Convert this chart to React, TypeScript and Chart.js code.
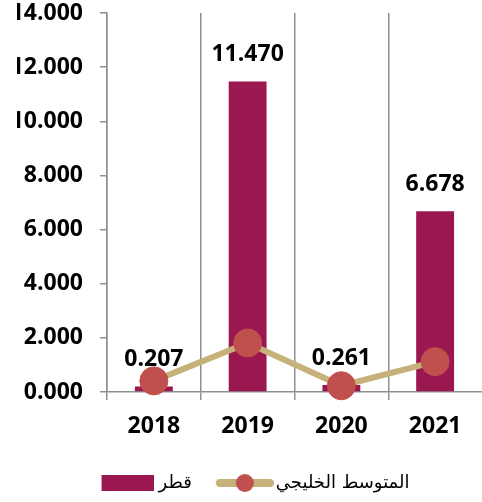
import React, { useEffect, useRef } from 'react';
import { Chart, registerables } from 'chart.js';

Chart.register(...registerables);

const categories = ['2018', '2019', '2020', '2021'];
const qatarValues = [0.207, 11.47, 0.261, 6.678];
const gulfAverageValues = [0.41, 1.81, 0.23, 1.12];
const seriesNames = ['قطر', 'المتوسط الخليجي'];
const yMin = 0;
const yMax = 14;
const yStep = 2;

const BAR = '#9B1750';
const LINE = '#C6B17A';
const POINT = '#C0504D';
const AXIS = '#8F8F8F';

function makeBarSwatch() {
  const c = document.createElement('canvas');
  c.width = 68;
  c.height = 16;
  const g = c.getContext('2d')!;
  g.fillStyle = BAR;
  g.fillRect(16, 0, 52, 16);
  return c;
}

function makeLineSwatch() {
  const c = document.createElement('canvas');
  c.width = 74;
  c.height = 20;
  const g = c.getContext('2d')!;
  g.strokeStyle = LINE;
  g.lineWidth = 8;
  g.lineCap = 'round';
  g.beginPath();
  g.moveTo(20, 10);
  g.lineTo(70, 10);
  g.stroke();
  g.fillStyle = POINT;
  g.beginPath();
  g.arc(45, 10, 9, 0, Math.PI * 2);
  g.fill();
  return c;
}

const barLabelsPlugin = {
  id: 'barLabels',
  afterDatasetsDraw(chart: any) {
    const meta = chart.getDatasetMeta(0);
    const ctx = chart.ctx;
    ctx.save();
    ctx.font = 'bold 23px "Open Sans"';
    ctx.fillStyle = '#000';
    ctx.textAlign = 'center';
    ctx.textBaseline = 'alphabetic';
    meta.data.forEach((el: any, i: number) => {
      ctx.fillText(qatarValues[i].toFixed(3), el.x, el.y - 20);
    });
    ctx.restore();
  },
};

export default function App() {
  const ref = useRef<HTMLCanvasElement | null>(null);
  useEffect(() => {
    if (!ref.current) return;
    const barSwatch = makeBarSwatch();
    const lineSwatch = makeLineSwatch();
    const chart = new Chart(ref.current, {
      type: 'bar',
      data: {
        labels: categories,
        datasets: [
          {
            type: 'bar',
            label: seriesNames[0],
            data: qatarValues,
            backgroundColor: BAR,
            categoryPercentage: 1,
            barPercentage: 0.404,
            order: 2,
          },
          {
            type: 'line',
            label: seriesNames[1],
            data: gulfAverageValues,
            borderColor: LINE,
            borderWidth: 6,
            pointRadius: 14,
            pointBackgroundColor: POINT,
            pointBorderColor: POINT,
            pointBorderWidth: 1,
            tension: 0,
            clip: false,
            order: 1,
          } as any,
        ],
      },
      options: {
        animation: false,
        responsive: true,
        maintainAspectRatio: false,
        layout: { autoPadding: false, padding: { left: 17, right: 0, top: 13, bottom: 0 } },
        scales: {
          x: {
            offset: true,
            afterFit: (s: any) => {
              s.height = 67;
            },
            ticks: {
              color: '#000',
              font: { family: 'Open Sans', size: 23, weight: 'bold' },
              padding: 13,
            },
            grid: {
              offset: true,
              drawOnChartArea: true,
              drawTicks: true,
              tickLength: 8,
              color: (c: any) => (c.type === 'tick' ? AXIS : 'rgba(0,0,0,0)'),
              lineWidth: 1.5,
            },
            border: { display: true, color: AXIS, width: 1.5 },
          },
          y: {
            min: yMin,
            max: yMax,
            afterFit: (s: any) => {
              s.width = 90;
              s.paddingTop = 0;
              s.paddingBottom = 0;
            },
            ticks: {
              stepSize: yStep,
              color: '#000',
              font: { family: 'Open Sans', size: 23, weight: 'bold', lineHeight: 1 },
              padding: 17,
              callback: (v: any) => Number(v).toFixed(3),
            },
            grid: {
              drawOnChartArea: false,
              drawTicks: true,
              tickLength: 7,
              color: AXIS,
              lineWidth: 1.5,
            },
            border: { display: true, color: AXIS, width: 1.5 },
          },
        },
        plugins: {
          tooltip: { enabled: false },
          legend: {
            position: 'bottom',
            labels: {
              usePointStyle: true,
              pointStyleWidth: 60,
              padding: 15,
              color: '#000',
              font: { family: 'DejaVu Sans', size: 18 },
              generateLabels: () => [
                {
                  text: seriesNames[0],
                  pointStyle: barSwatch as any,
                  fillStyle: BAR,
                  strokeStyle: 'rgba(0,0,0,0)',
                  lineWidth: 0,
                  hidden: false,
                  datasetIndex: 0,
                  fontColor: '#000',
                },
                {
                  text: seriesNames[1],
                  pointStyle: lineSwatch as any,
                  fillStyle: POINT,
                  strokeStyle: 'rgba(0,0,0,0)',
                  lineWidth: 0,
                  hidden: false,
                  datasetIndex: 1,
                  fontColor: '#000',
                },
              ],
            },
          },
        },
      },
      plugins: [barLabelsPlugin],
    });
    return () => chart.destroy();
  }, []);
  return (
    <div style={{ position: 'fixed', left: 0, top: 0, width: 482, height: 502 }}>
      <canvas ref={ref} />
    </div>
  );
}
